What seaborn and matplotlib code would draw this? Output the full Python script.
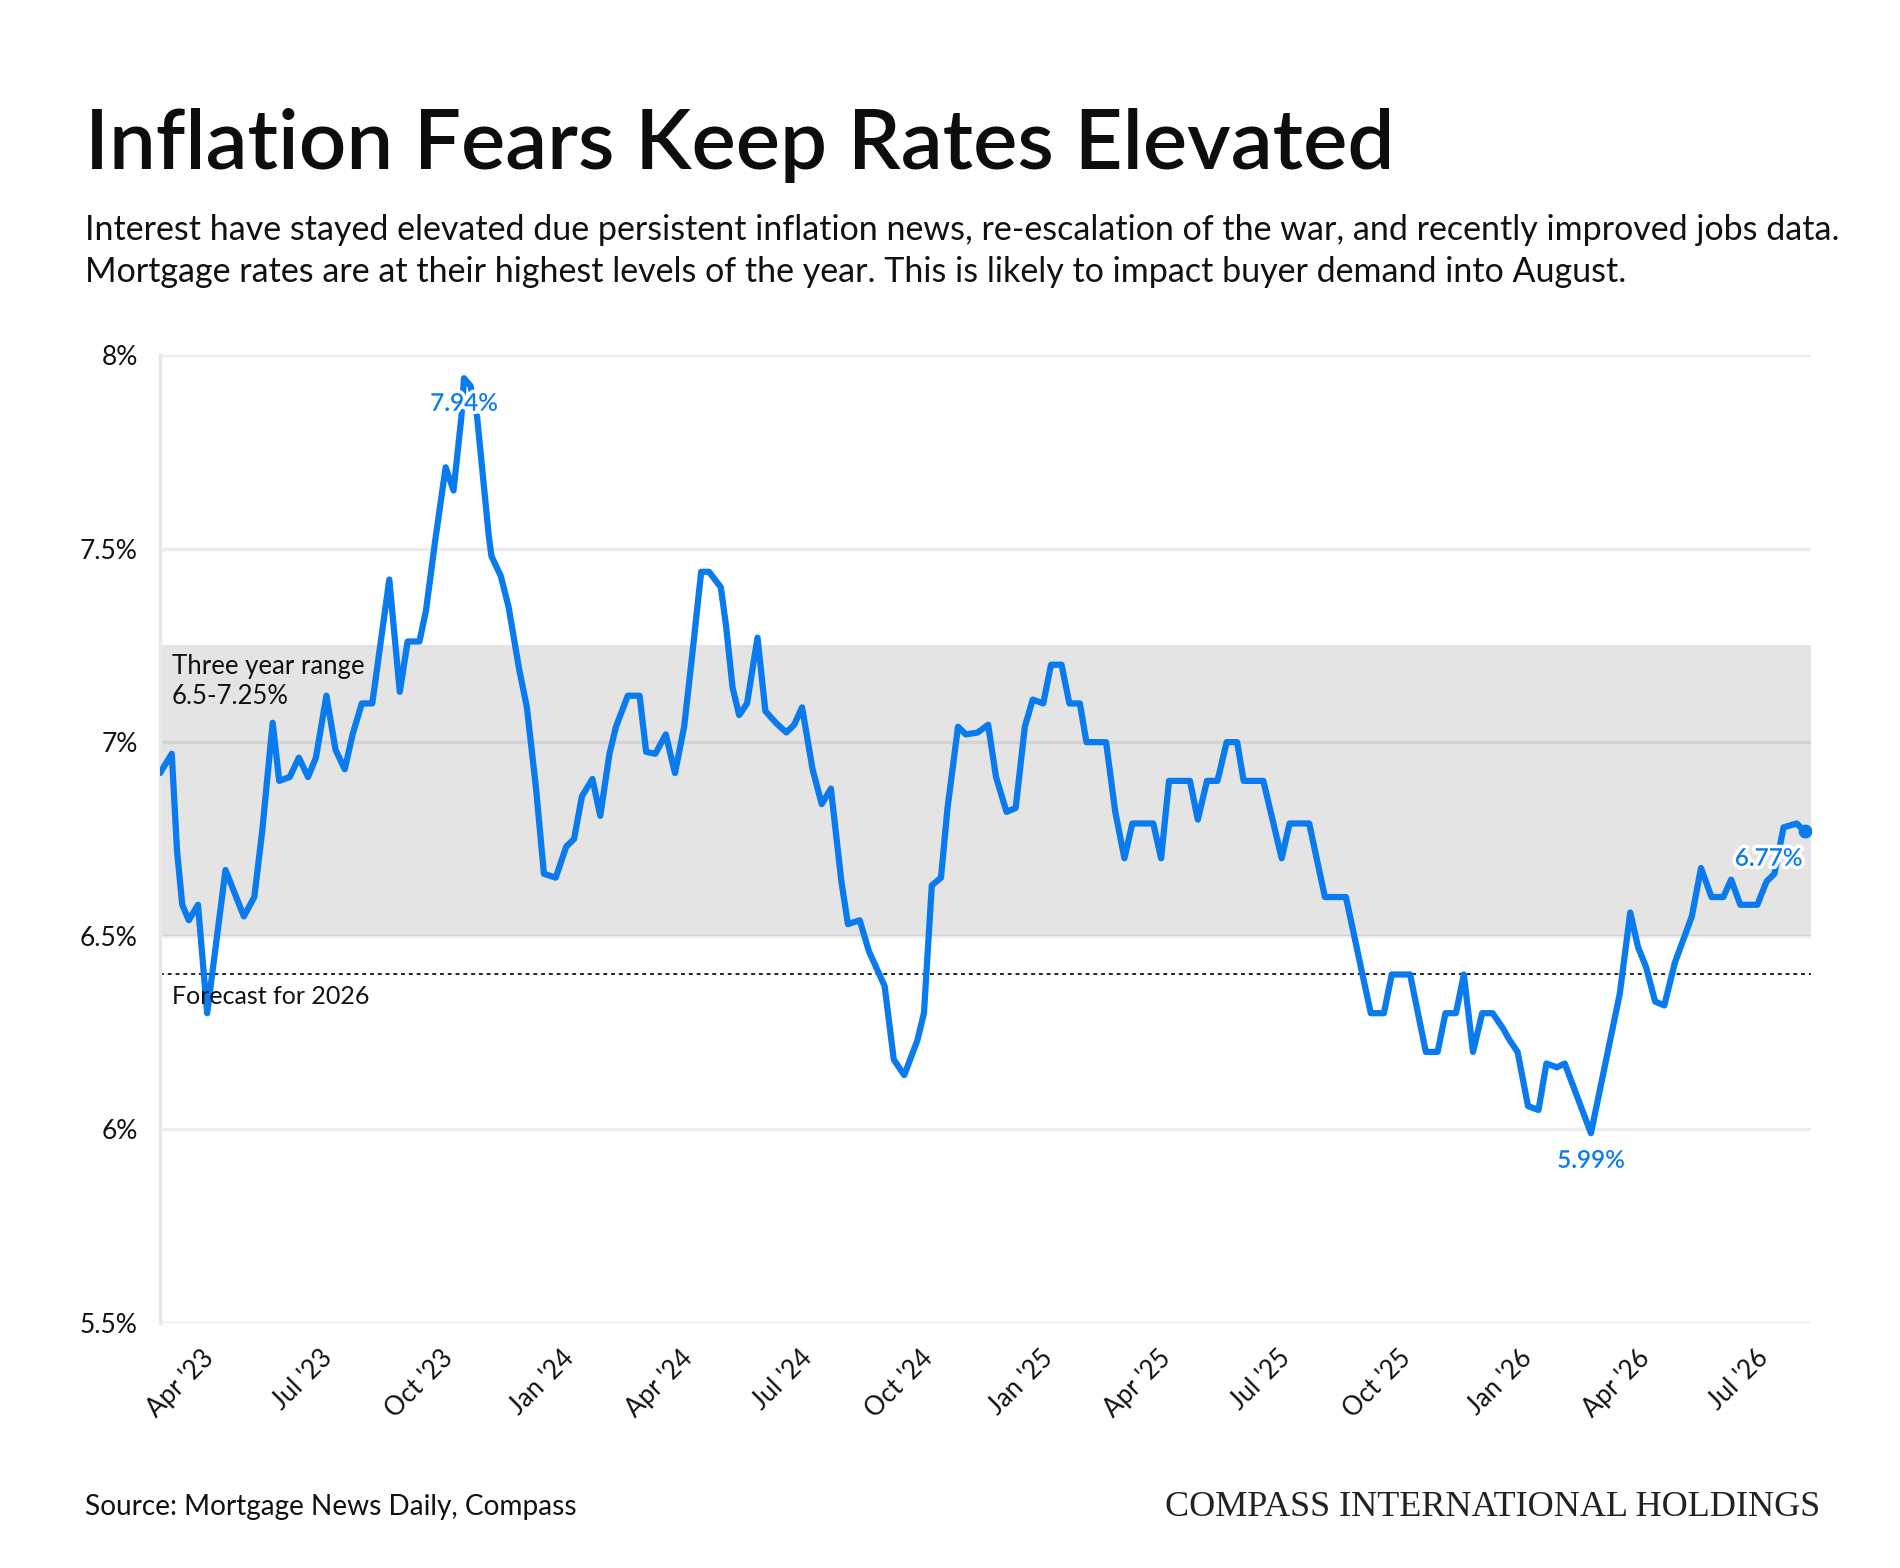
import pandas as pd
import numpy as np
import matplotlib
matplotlib.use("Agg")
import matplotlib.pyplot as plt
import matplotlib.dates as mdates
import matplotlib.patheffects as pe
from matplotlib.ticker import FuncFormatter, MultipleLocator
import seaborn as sns

# 30-yr mortgage rate
dates = [
    "2023-03-01", "2023-03-10", "2023-03-14", "2023-03-18", "2023-03-23", "2023-03-30",
    "2023-04-06", "2023-04-20", "2023-05-04", "2023-05-12", "2023-05-18", "2023-05-26",
    "2023-05-31", "2023-06-08", "2023-06-15", "2023-06-22", "2023-06-28", "2023-07-06",
    "2023-07-13", "2023-07-20", "2023-07-26", "2023-08-02", "2023-08-10", "2023-08-23",
    "2023-08-31", "2023-09-06", "2023-09-15", "2023-09-20", "2023-09-27", "2023-10-05",
    "2023-10-11", "2023-10-17", "2023-10-19", "2023-10-24", "2023-10-29", "2023-11-07",
    "2023-11-09", "2023-11-16", "2023-11-22", "2023-11-30", "2023-12-06", "2023-12-13",
    "2023-12-19", "2023-12-28",
    "2024-01-05", "2024-01-11", "2024-01-17", "2024-01-25", "2024-01-31", "2024-02-07",
    "2024-02-12", "2024-02-21", "2024-03-01", "2024-03-06", "2024-03-13", "2024-03-21",
    "2024-03-28", "2024-04-04", "2024-04-10", "2024-04-17", "2024-04-23", "2024-05-02",
    "2024-05-06", "2024-05-11", "2024-05-16", "2024-05-22", "2024-05-30", "2024-06-05",
    "2024-06-13", "2024-06-21", "2024-06-27", "2024-07-03", "2024-07-11", "2024-07-18",
    "2024-07-25", "2024-08-02", "2024-08-07", "2024-08-16", "2024-08-23", "2024-09-04",
    "2024-09-11", "2024-09-19", "2024-09-29", "2024-10-04", "2024-10-10", "2024-10-17",
    "2024-10-22", "2024-10-30", "2024-11-05", "2024-11-14", "2024-11-22", "2024-11-28",
    "2024-12-06", "2024-12-13", "2024-12-20", "2024-12-26",
    "2025-01-03", "2025-01-09", "2025-01-17", "2025-01-23", "2025-01-31", "2025-02-05",
    "2025-02-20", "2025-02-27", "2025-03-06", "2025-03-12", "2025-03-28", "2025-04-03",
    "2025-04-09", "2025-04-25", "2025-05-01", "2025-05-08", "2025-05-16", "2025-05-23",
    "2025-05-31", "2025-06-05", "2025-06-20", "2025-07-04", "2025-07-10", "2025-07-25",
    "2025-08-06", "2025-08-22", "2025-09-10", "2025-09-20", "2025-09-26", "2025-10-10",
    "2025-10-22", "2025-10-31", "2025-11-06", "2025-11-14", "2025-11-20", "2025-11-27",
    "2025-12-04", "2025-12-12", "2025-12-20", "2025-12-25", "2025-12-31",
    "2026-01-08", "2026-01-16", "2026-01-22", "2026-01-30", "2026-02-05", "2026-02-25",
    "2026-03-19", "2026-03-27", "2026-04-02", "2026-04-08", "2026-04-15", "2026-04-22",
    "2026-04-30", "2026-05-13", "2026-05-20", "2026-05-28", "2026-06-06", "2026-06-12",
    "2026-06-19", "2026-07-02", "2026-07-09", "2026-07-15", "2026-07-22", "2026-08-01",
    "2026-08-07",
]
rates = [
    6.92, 6.97, 6.72, 6.58, 6.54, 6.58,
    6.30, 6.67, 6.55, 6.60, 6.77, 7.05,
    6.90, 6.91, 6.96, 6.91, 6.96, 7.12,
    6.98, 6.93, 7.02, 7.10, 7.10, 7.42,
    7.13, 7.26, 7.26, 7.34, 7.52, 7.71,
    7.65, 7.84, 7.94, 7.92, 7.84, 7.53,
    7.48, 7.43, 7.35, 7.19, 7.09, 6.88,
    6.66, 6.65,
    6.73, 6.75, 6.86, 6.905, 6.81, 6.97,
    7.04, 7.12, 7.12, 6.975, 6.97, 7.02,
    6.92, 7.04, 7.22, 7.44, 7.44, 7.40,
    7.30, 7.14, 7.07, 7.10, 7.27, 7.08,
    7.05, 7.025, 7.045, 7.09, 6.93, 6.84,
    6.88, 6.64, 6.53, 6.54, 6.46, 6.37,
    6.18, 6.14, 6.23, 6.30, 6.63, 6.65,
    6.83, 7.04, 7.02, 7.025, 7.045, 6.91,
    6.82, 6.83, 7.04, 7.11,
    7.10, 7.20, 7.20, 7.10, 7.10, 7.00,
    7.00, 6.82, 6.70, 6.79, 6.79, 6.70,
    6.90, 6.90, 6.80, 6.90, 6.90, 7.00,
    7.00, 6.90, 6.90, 6.70, 6.79, 6.79,
    6.60, 6.60, 6.30, 6.30, 6.40, 6.40,
    6.20, 6.20, 6.30, 6.30, 6.40, 6.20,
    6.30, 6.30, 6.26, 6.23, 6.20,
    6.06, 6.05, 6.17, 6.16, 6.17, 5.99,
    6.35, 6.56, 6.47, 6.42, 6.33, 6.32,
    6.43, 6.55, 6.675, 6.60, 6.60, 6.645,
    6.58, 6.58, 6.64, 6.66, 6.78, 6.79,
    6.77,
]

range_low, range_high = 6.5, 7.25
forecast = 6.4
callouts = [("2023-10-19", 7.94), ("2026-02-25", 5.99), ("2026-08-07", 6.77)]

blue = "#0a7bef"

df = pd.DataFrame({"date": pd.to_datetime(dates), "rate": rates})

sns.set_style("white")
plt.rcParams["font.family"] = ["Lato", "DejaVu Sans"]

fig = plt.figure(figsize=(19, 15.68), dpi=100)
ax = fig.add_axes([0.0842, 0.1563, 0.8690, 0.6173])

# three year range band + gridlines
ax.axhspan(range_low, range_high, color="#e4e4e4", lw=0, zorder=0)
for v in np.arange(5.5, 8.01, 0.5):
    ax.axhline(v, color="black", alpha=0.075, lw=2.5, zorder=1)
ax.axhline(forecast, color="#222222", lw=1.4, ls=(0, (2, 2)), zorder=2)

sns.lineplot(data=df, x="date", y="rate", ax=ax, color=blue, lw=4.5, zorder=3,
             solid_capstyle="round", solid_joinstyle="round")
ax.plot(df["date"].iloc[-1], df["rate"].iloc[-1], "o", color=blue, ms=9, zorder=4)

ax.set_xlim(pd.Timestamp("2023-03-01"), pd.Timestamp("2026-08-12"))
ax.set_ylim(5.5, 8.0)
ax.yaxis.set_major_locator(MultipleLocator(0.5))
ax.yaxis.set_major_formatter(FuncFormatter(lambda v, p: f"{v:g}%"))
ax.xaxis.set_major_locator(mdates.MonthLocator(bymonth=[1, 4, 7, 10]))
ax.xaxis.set_major_formatter(mdates.DateFormatter("%b '%y"))
ax.set_xlabel("")
ax.set_ylabel("")

for s in ["top", "right", "bottom"]:
    ax.spines[s].set_visible(False)
ax.spines["left"].set_color("#e8e8e8")
ax.spines["left"].set_linewidth(2.5)
ax.tick_params(axis="y", length=11, width=2.5, color="#ebebeb", labelsize=19, pad=5,
               labelcolor="#111111")
ax.tick_params(axis="x", length=10, width=2.5, color="#ebebeb", labelsize=18.5, pad=6,
               labelcolor="#111111")
for lab in ax.get_xticklabels():
    lab.set_rotation(45)
    lab.set_ha("right")
    lab.set_rotation_mode("anchor")

# callouts
halo = [pe.withStroke(linewidth=5, foreground="white")]
offsets = [(0, -25), (0, -27), (-36, -27)]
for (d, v), off in zip(callouts, offsets):
    ax.annotate(f"{v:.2f}%", xy=(pd.Timestamp(d), v), xytext=off, textcoords="offset pixels",
                ha="center", va="center", fontsize=17.5, color=blue, fontweight="semibold",
                path_effects=halo, zorder=5)

ax.annotate("Three year range\n6.5-7.25%", xy=(0, range_high), xycoords=("axes fraction", "data"),
            xytext=(12, -9), textcoords="offset pixels", ha="left", va="top",
            fontsize=18.5, color="#111111", linespacing=1.25, zorder=5)
ax.annotate("Forecast for 2026", xy=(0, forecast), xycoords=("axes fraction", "data"),
            xytext=(12, -11), textcoords="offset pixels", ha="left", va="top",
            fontsize=18, color="#111111", zorder=5)

# titles and footer
fig.text(0.0447, 1 - 169 / 1568, "Inflation Fears Keep Rates Elevated", fontsize=60,
         fontweight="semibold", color="#0d0d0d", va="baseline", ha="left")
fig.text(0.0447, 1 - 240 / 1568,
         "Interest have stayed elevated due persistent inflation news, re-escalation of the war, "
         "and recently improved jobs data.", fontsize=24.5, color="#111111", va="baseline")
fig.text(0.0447, 1 - 282 / 1568,
         "Mortgage rates are at their highest levels of the year. This is likely to impact buyer "
         "demand into August.", fontsize=24.5, color="#111111", va="baseline")
fig.text(0.0447, 1 - 1515 / 1568, "Source: Mortgage News Daily, Compass", fontsize=20.2,
         color="#111111", va="baseline")
fig.text(0.958, 1 - 1516 / 1568, "COMPASS INTERNATIONAL HOLDINGS", fontsize=26,
         family="Liberation Serif", color="#222222", va="baseline", ha="right")

fig.savefig("out.png", dpi=100, facecolor="white")
